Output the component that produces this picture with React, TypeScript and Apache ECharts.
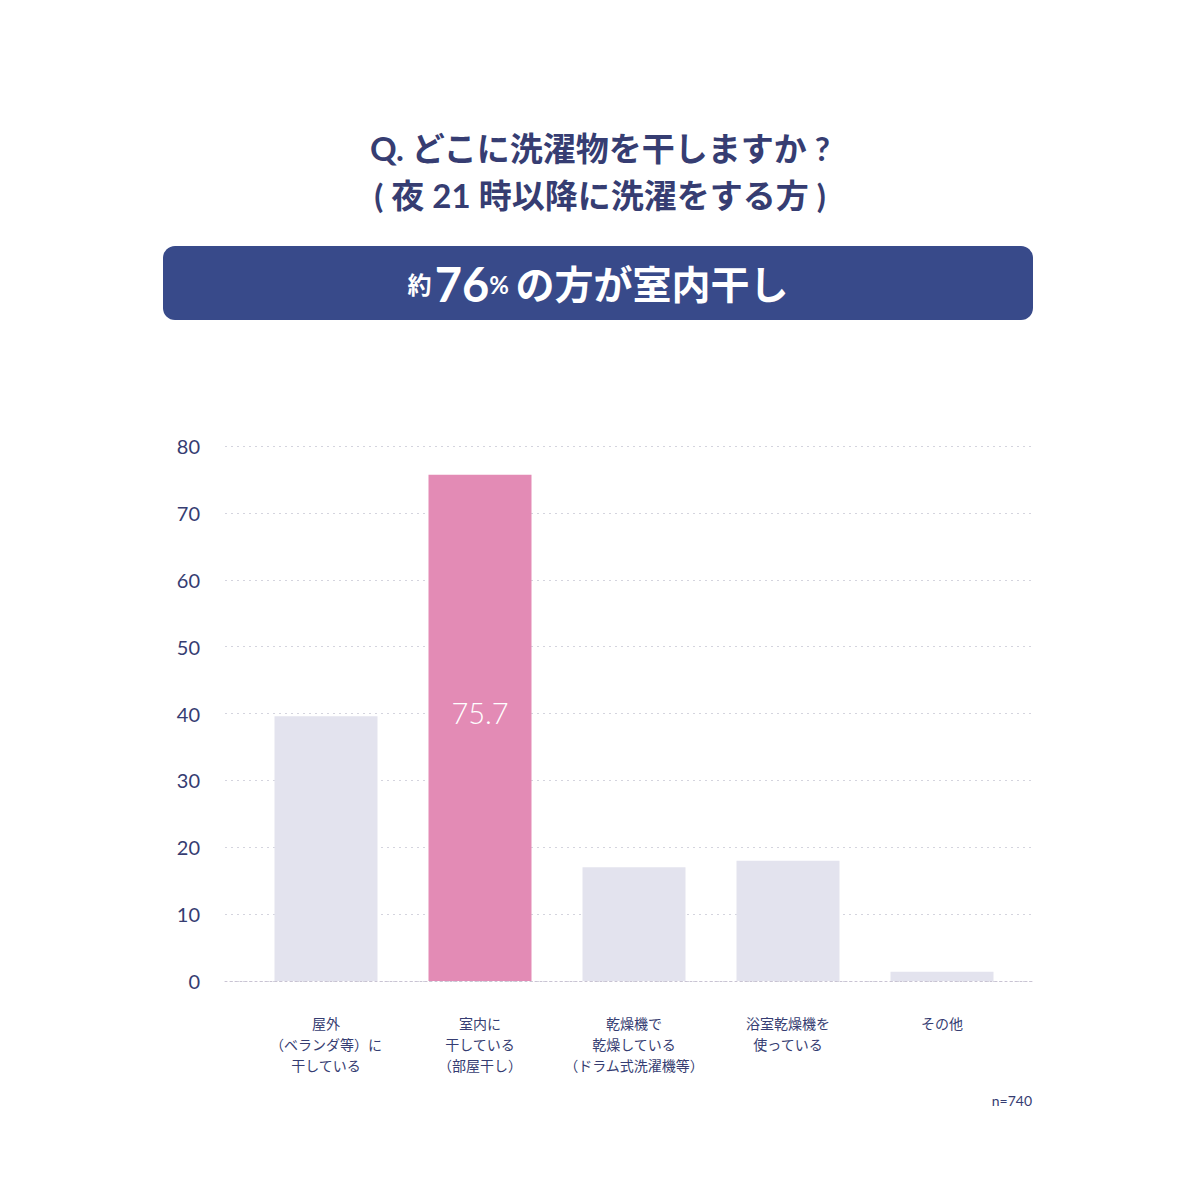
import { useEffect, useRef } from 'react';
import * as echarts from 'echarts';

const categories = [
  '屋外\n（ベランダ等）に\n干している',
  '室内に\n干している\n（部屋干し）',
  '乾燥機で\n乾燥している\n（ドラム式洗濯機等）',
  '浴室乾燥機を\n使っている',
  'その他',
];
const values = [39.6, 75.7, 17.0, 18.0, 1.4];
const highlightIndex = 1;
const yTicks = [0, 10, 20, 30, 40, 50, 60, 70, 80];

const NAVY = '#363d72';
const FONT = "Lato, 'Noto Sans CJK JP', sans-serif";

export default function App() {
  const chartRef = useRef<HTMLDivElement | null>(null);

  useEffect(() => {
    const element = chartRef.current;
    if (!element) return;

    const chart = echarts.init(element, null, { renderer: 'svg' });
    const yMax = yTicks[yTicks.length - 1];
    const yStep = yTicks[1] - yTicks[0];

    chart.setOption({
      animation: false,
      backgroundColor: '#ffffff',
      textStyle: { fontFamily: FONT },
      title: [
        {
          text: 'Q. どこに洗濯物を干しますか ?',
          left: 'center',
          top: 126,
          textStyle: { fontSize: 33, fontWeight: 'bold', color: NAVY, fontFamily: FONT },
        },
        {
          text: '( 夜 21 時以降に洗濯をする方 )',
          left: 'center',
          top: 173,
          textStyle: { fontSize: 33, fontWeight: 'bold', color: NAVY, fontFamily: FONT },
        },
        {
          text: 'n=740',
          right: 163,
          top: 1088,
          textStyle: { fontSize: 14, fontWeight: 'normal', color: NAVY, fontFamily: FONT },
        },
      ],
      graphic: [
        {
          type: 'rect',
          shape: { x: 163, y: 246, width: 870, height: 74, r: 12 },
          style: { fill: '#384a8a' },
        },
        {
          type: 'text',
          x: 598,
          y: 284,
          style: {
            text: '{s|約} {b|76}{s|%}  {m|の方が室内干し}',
            align: 'center',
            verticalAlign: 'middle',
            fill: '#ffffff',
            rich: {
              s: { fontSize: 24, fontWeight: 'bold', fill: '#ffffff', fontFamily: FONT },
              b: { fontSize: 47, fontWeight: 'bold', fill: '#ffffff', fontFamily: FONT },
              m: { fontSize: 39, fontWeight: 'bold', fill: '#ffffff', fontFamily: FONT },
            },
          },
        },
      ],
      grid: [
        { left: 249, right: 181, top: 446, bottom: 219 },
        { left: 225, right: 168, top: 446, bottom: 219 },
      ],
      xAxis: [
        {
          type: 'category',
          gridIndex: 0,
          data: categories,
          axisLine: { show: false },
          axisTick: { show: false },
          axisLabel: {
            color: NAVY,
            fontSize: 14,
            lineHeight: 21,
            margin: 32,
            verticalAlign: 'top',
            interval: 0,
          },
        },
        {
          type: 'value',
          gridIndex: 1,
          axisLine: {
            show: true,
            lineStyle: { color: '#c9c3d3', type: [2, 3], width: 1 },
          },
          axisTick: { show: false },
          axisLabel: { show: false },
          splitLine: { show: false },
        },
      ],
      yAxis: [
        {
          type: 'value',
          gridIndex: 0,
          min: 0,
          max: yMax,
          interval: yStep,
          show: false,
          splitLine: { show: false },
        },
        {
          type: 'value',
          gridIndex: 1,
          min: 0,
          max: yMax,
          interval: yStep,
          axisLine: { show: false },
          axisTick: { show: false },
          axisLabel: { color: NAVY, fontSize: 20, margin: 25 },
          splitLine: {
            lineStyle: { color: '#d4d4de', type: [2, 4], width: 1 },
          },
        },
      ],
      series: [
        {
          type: 'bar',
          xAxisIndex: 0,
          yAxisIndex: 0,
          barWidth: 103,
          z: 3,
          data: values.map((v, i) => ({
            value: v,
            itemStyle: { color: i === highlightIndex ? '#e38bb5' : '#e3e3ee' },
            label: {
              show: i === highlightIndex,
              position: 'inside',
              offset: [0, -15],
              formatter: '{c}',
              color: '#ffffff',
              fontSize: 29,
              fontWeight: 300,
              fontFamily: FONT,
            },
          })),
        },
      ],
    });

    return () => {
      chart.dispose();
    };
  }, []);

  return (
    <div
      ref={chartRef}
      style={{ position: 'absolute', top: 0, left: 0, width: 1200, height: 1200 }}
    />
  );
}
